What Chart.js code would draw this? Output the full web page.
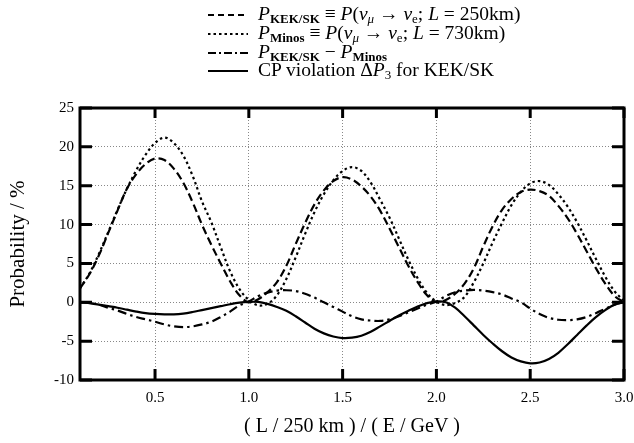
<!DOCTYPE html>
<html>
<head>
<meta charset="utf-8">
<script src="https://cdn.jsdelivr.net/npm/chart.js@4"></script>
<style>
  html, body { margin: 0; padding: 0; background: #fff; }
  #wrap { position: relative; width: 634px; height: 443px; }
  #legend { position: absolute; left: 0; top: 0; font-family: "Liberation Serif", "DejaVu Serif", serif; font-size: 19.5px; color: #000; }
  .row { position: absolute; left: 208px; height: 20px; white-space: nowrap; }
  .row svg { position: absolute; left: 0; top: 9px; }
  .row span.txt { position: absolute; left: 50px; top: 0; line-height: 20px; }
  sub { font-size: 13px; vertical-align: -3px; }
  sub.b { font-weight: bold; font-style: normal; }
</style>
</head>
<body>
<div id="wrap">
  <canvas id="chart" width="634" height="443"></canvas>
  <div id="legend">
    <div class="row" style="top:4px">
      <svg width="40" height="4"><line x1="0" y1="2" x2="40" y2="2" stroke="#000" stroke-width="2" stroke-dasharray="6,4"/></svg>
      <span class="txt"><i>P</i><sub class="b">KEK/SK</sub> ≡ <i>P</i>(<i>ν</i><sub><i>μ</i></sub> → <i>ν</i><sub>e</sub>; <i>L</i> = 250km)</span>
    </div>
    <div class="row" style="top:23px">
      <svg width="40" height="4"><line x1="0" y1="2" x2="40" y2="2" stroke="#000" stroke-width="2" stroke-dasharray="2.5,3"/></svg>
      <span class="txt"><i>P</i><sub class="b">Minos</sub> ≡ <i>P</i>(<i>ν</i><sub><i>μ</i></sub> → <i>ν</i><sub>e</sub>; <i>L</i> = 730km)</span>
    </div>
    <div class="row" style="top:42px">
      <svg width="40" height="4"><line x1="0" y1="2" x2="40" y2="2" stroke="#000" stroke-width="2" stroke-dasharray="8,3,2,3"/></svg>
      <span class="txt"><i>P</i><sub class="b">KEK/SK</sub> − <i>P</i><sub class="b">Minos</sub></span>
    </div>
    <div class="row" style="top:60px">
      <svg width="40" height="4"><line x1="0" y1="2" x2="40" y2="2" stroke="#000" stroke-width="2"/></svg>
      <span class="txt">CP violation Δ<i>P</i><sub>3</sub> for KEK/SK</span>
    </div>
  </div>
</div>
<script>
// x = (L / 250 km) / (E / GeV), sampled every 0.05
const xValues = [0.10,0.15,0.20,0.25,0.30,0.35,0.40,0.45,0.50,0.55,0.60,0.65,0.70,0.75,0.80,0.85,0.90,0.95,1.00,
                 1.05,1.10,1.15,1.20,1.25,1.30,1.35,1.40,1.45,1.50,1.55,1.60,1.65,1.70,1.75,1.80,1.85,1.90,1.95,2.00,
                 2.05,2.10,2.15,2.20,2.25,2.30,2.35,2.40,2.45,2.50,2.55,2.60,2.65,2.70,2.75,2.80,2.85,2.90,2.95,3.00];

// P_KEK/SK (dashed)
const kekSk = [1.8,3.6,6.0,8.9,11.8,14.6,16.5,17.8,18.5,18.3,17.2,15.4,12.9,10.0,7.4,5.0,2.7,0.9,0.0,
               0.4,1.3,2.6,4.7,7.5,10.2,12.6,14.4,15.6,16.1,15.8,14.9,13.6,11.8,9.5,7.1,4.7,2.6,0.9,0.0,
               0.3,1.1,2.4,4.4,7.2,9.8,11.9,13.3,14.2,14.5,14.3,13.7,12.4,10.8,8.8,6.6,4.4,2.4,0.8,0.0];

// P_Minos (dotted)
const minos = [1.8,3.7,6.2,9.0,11.9,14.6,17.0,19.0,20.5,21.2,20.5,18.9,16.3,13.0,10.3,7.1,4.0,1.7,0.3,
               -0.4,-0.2,0.9,3.0,5.8,8.8,11.6,13.9,15.7,16.9,17.4,16.9,15.4,13.2,10.9,8.2,5.5,3.1,1.2,0.1,
               -0.35,-0.1,0.7,2.6,5.0,7.7,10.2,12.5,14.2,15.3,15.6,15.1,13.9,12.3,10.3,8.0,5.6,3.3,1.4,0.2];

// P_KEK/SK - P_Minos (dash-dot)
const diffKM = [0.0,-0.1,-0.3,-0.7,-1.05,-1.5,-1.9,-2.2,-2.5,-2.85,-3.1,-3.2,-3.1,-2.85,-2.5,-1.9,-1.2,-0.4,0.1,
                0.8,1.25,1.5,1.55,1.45,1.1,0.6,0.0,-0.6,-1.2,-1.8,-2.2,-2.35,-2.4,-2.2,-1.8,-1.3,-0.8,-0.3,0.1,
                0.8,1.3,1.5,1.6,1.5,1.3,1.0,0.5,0.0,-0.8,-1.5,-2.0,-2.25,-2.3,-2.2,-1.9,-1.4,-0.85,-0.3,0.0];

// CP violation Delta P3 for KEK/SK (solid)
const cpViolation = [0.0,-0.1,-0.3,-0.5,-0.7,-0.95,-1.2,-1.4,-1.5,-1.55,-1.55,-1.45,-1.25,-1.0,-0.75,-0.5,-0.25,-0.05,0.05,
                     0.05,-0.2,-0.6,-1.1,-1.8,-2.6,-3.4,-4.0,-4.4,-4.6,-4.55,-4.3,-3.8,-3.1,-2.4,-1.7,-1.1,-0.55,-0.1,0.1,
                     0.0,-0.7,-1.8,-3.0,-4.2,-5.3,-6.3,-7.1,-7.6,-7.85,-7.75,-7.3,-6.5,-5.4,-4.2,-3.0,-1.9,-1.0,-0.3,0.0];

const xTickValues = [0.5, 1.0, 1.5, 2.0, 2.5, 3.0];
const yTickValues = [-10, -5, 0, 5, 10, 15, 20, 25];

const serif = '"Liberation Serif", "DejaVu Serif", serif';

function pts(ys) {
    return xValues.map((x, i) => ({ x: x, y: ys[i] }));
}

// frame and inward ticks like the original plot
const framePlugin = {
    id: 'frame',
    afterDraw(chart) {
        const ctx = chart.ctx;
        const a = chart.chartArea;
        const xs = chart.scales.x, ys = chart.scales.y;
        ctx.save();
        ctx.strokeStyle = '#000';
        ctx.lineWidth = 3;
        ctx.strokeRect(a.left, a.top, a.right - a.left, a.bottom - a.top);
        ctx.beginPath();
        xTickValues.forEach(v => {
            const p = xs.getPixelForValue(v);
            ctx.moveTo(p, a.bottom); ctx.lineTo(p, a.bottom - 11);
            ctx.moveTo(p, a.top); ctx.lineTo(p, a.top + 10);
        });
        yTickValues.forEach(v => {
            const p = ys.getPixelForValue(v);
            ctx.moveTo(a.left, p); ctx.lineTo(a.left + 12, p);
            ctx.moveTo(a.right, p); ctx.lineTo(a.right - 12, p);
        });
        ctx.stroke();
        ctx.restore();
    }
};

const lineBase = { borderColor: '#000', borderWidth: 2.2, pointRadius: 0, tension: 0.35, fill: false };

new Chart(document.getElementById('chart'), {
    type: 'line',
    data: {
        datasets: [
            Object.assign({ label: 'P_KEK/SK', data: pts(kekSk), borderDash: [8, 4] }, lineBase),
            Object.assign({ label: 'P_Minos', data: pts(minos), borderDash: [2.5, 3] }, lineBase),
            Object.assign({ label: 'P_KEK/SK - P_Minos', data: pts(diffKM), borderDash: [9, 4, 2.5, 4] }, lineBase),
            Object.assign({ label: 'CP violation', data: pts(cpViolation) }, lineBase)
        ]
    },
    options: {
        responsive: false,
        animation: false,
        devicePixelRatio: 1,
        layout: { padding: { top: 108, right: 10, left: 6, bottom: 4 } },
        plugins: { legend: { display: false }, tooltip: { enabled: false } },
        scales: {
            x: {
                type: 'linear',
                min: 0.1,
                max: 3.0,
                afterBuildTicks: s => { s.ticks = xTickValues.map(v => ({ value: v })); },
                afterFit: s => { s.height = 59; s.paddingRight = 0; s.paddingLeft = 0; },
                grid: { color: '#888', lineWidth: 1, drawTicks: false },
                border: { display: false, dash: [1, 2] },
                ticks: { color: '#000', padding: 9, font: { family: serif, size: 15 }, callback: v => Number(v).toFixed(1) },
                title: { display: true, text: '( L / 250 km ) / ( E / GeV )', color: '#000', font: { family: serif, size: 20 }, padding: { top: 4, bottom: 0 } }
            },
            y: {
                min: -10,
                max: 25,
                afterBuildTicks: s => { s.ticks = yTickValues.map(v => ({ value: v })); },
                afterFit: s => { s.width = 74; s.paddingTop = 0; s.paddingBottom = 0; },
                grid: { color: '#888', lineWidth: 1, drawTicks: false },
                border: { display: false, dash: [1, 2] },
                ticks: { color: '#000', padding: 6, font: { family: serif, size: 15 } },
                title: { display: true, text: 'Probability / %', color: '#000', font: { family: serif, size: 21 }, padding: { top: 0, bottom: 4 } }
            }
        }
    },
    plugins: [framePlugin]
});
</script>
</body>
</html>
